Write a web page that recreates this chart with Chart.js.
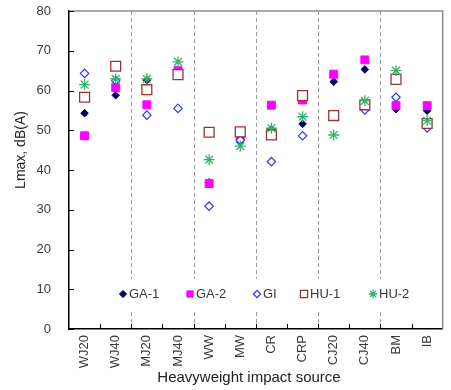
<!DOCTYPE html>
<html><head><meta charset="utf-8">
<script src="https://cdn.jsdelivr.net/npm/chart.js@4.4.1/dist/chart.umd.min.js"></script>
<style>html,body{margin:0;padding:0;background:#fff;}canvas{display:block}</style>
</head><body>
<canvas id="c" width="451" height="390"></canvas>
<script>
const categories = ['WJ20','WJ40','MJ20','MJ40','WW','MW','CR','CRP','CJ20','CJ40','BM','IB'];
const ga1 = [54.3, 58.8, 62.6, 64.5, 36.9, 47.0, 50.2, 51.6, 62.2, 65.3, 55.3, 54.9];
const ga2 = [48.6, 60.7, 56.4, 65.0, 36.6, 48.4, 56.3, 57.6, 64.1, 67.7, 56.2, 56.2];
const gi  = [64.3, 62.5, 53.8, 55.5, 30.9, 47.5, 42.1, 48.6, null, 55.1, 58.3, 50.6];
const hu1 = [58.3, 66.1, 60.2, 64.0, 49.5, 49.6, 48.8, 58.7, 53.7, 56.4, 62.8, 51.7];
const hu2 = [61.5, 62.9, 62.9, 67.2, 42.6, 46.0, 50.5, 53.4, 48.8, 57.4, 65.0, 52.4];
const yTicks = [0,10,20,30,40,50,60,70,80];
const separatorsAfter = [1,3,5,7,9];
const xTitle = 'Heavyweight impact source';
const yTitle = 'Lmax, dB(A)';

const FONT = '"Liberation Sans", Arial, sans-serif';
const TXT = '#3a3a3a';

function ds(label, data, style, radius, color, fill, order, bw){
  return {label, data, showLine:false, pointStyle:style, pointRadius:radius, pointHoverRadius:radius,
    pointBackgroundColor:fill, pointBorderColor:color, pointBorderWidth:bw, backgroundColor:fill, borderColor:color, order};
}
const datasets = [
  ds('GA-1', ga1, 'rectRot', 3.8, '#000066', '#000066', 5, 1),
  ds('GA-2', ga2, 'rect', 5.6, '#ff00ff', '#ff00ff', 4, 1),
  ds('GI',   gi,  'rectRot', 4.2, '#3333ff', '#ffffff', 3, 1.2),
  ds('HU-1', hu1, 'rect', 7, '#993333', '#ffffff', 2, 1.3),
  ds('HU-2', hu2, 'star', 5.5, '#33b36b', 'rgba(0,0,0,0)', 1, 1.3)
];

const framePlugin = {
  id:'frame',
  beforeDatasetsDraw(chart){
    const {ctx, chartArea:a, scales:{x,y}} = chart;
    ctx.save();
    ctx.strokeStyle='#9a9a9a'; ctx.lineWidth=1; ctx.setLineDash([4,3]);
    separatorsAfter.forEach(i=>{
      const px = Math.round((x.getPixelForValue(i)+x.getPixelForValue(i+1))/2)+0.5;
      ctx.beginPath(); ctx.moveTo(px,a.top); ctx.lineTo(px,a.bottom); ctx.stroke();
    });
    ctx.setLineDash([]);
    ctx.strokeStyle='#8c8c8c'; ctx.lineWidth=1.5;
    ctx.beginPath(); ctx.moveTo(a.left,a.top); ctx.lineTo(a.right,a.top); ctx.lineTo(a.right,a.bottom); ctx.stroke();
    ctx.strokeStyle='#000'; ctx.lineWidth=1;
    yTicks.forEach(v=>{
      const py=Math.round(y.getPixelForValue(v))+0.5;
      ctx.beginPath(); ctx.moveTo(a.left,py); ctx.lineTo(a.left+5,py); ctx.stroke();
    });
    for(let i=0;i<categories.length-1;i++){
      const px = Math.round((x.getPixelForValue(i)+x.getPixelForValue(i+1))/2)+0.5;
      ctx.beginPath(); ctx.moveTo(px,a.bottom); ctx.lineTo(px,a.bottom-5); ctx.stroke();
    }
    ctx.restore();
  },
  afterDatasetsDraw(chart){
    const {ctx} = chart;
    ctx.save();
    ctx.fillStyle='#fff';
    ctx.fillRect(113,279,306,32);
    const items = [[123,129],[190,196],[257,263],[304,310],[373,379]];
    const sizes = [3.6,4.4,3.6,5,4.2];
    chart.data.datasets.forEach((d,i)=>{
      const [mx,tx] = items[i];
      ctx.fillStyle = d.pointBackgroundColor;
      ctx.strokeStyle = d.pointBorderColor;
      ctx.lineWidth = d.pointBorderWidth;
      Chart.helpers.drawPoint(ctx,{pointStyle:d.pointStyle, radius:sizes[i], rotation:0, borderWidth:d.pointBorderWidth}, mx, 294);
      ctx.fillStyle = TXT;
      ctx.font = '13px '+FONT;
      ctx.textBaseline='middle'; ctx.textAlign='left';
      ctx.fillText(d.label, tx, 294.5);
    });
    ctx.restore();
  },
  afterDraw(chart){
    const {ctx} = chart;
    ctx.save();
    ctx.fillStyle='#222';
    ctx.textAlign='center'; ctx.textBaseline='middle';
    ctx.font='15px '+FONT;
    ctx.fillText(xTitle, 249, 378);
    ctx.font='14px '+FONT;
    ctx.translate(21,150); ctx.rotate(-Math.PI/2);
    ctx.fillText(yTitle, 0, 0);
    ctx.restore();
  }
};

new Chart(document.getElementById('c'), {
  type:'line',
  data:{labels:categories, datasets},
  options:{
    responsive:false, animation:false,
    layout:{padding:{top:11,right:4,left:0,bottom:0}},
    plugins:{legend:{display:false}, tooltip:{enabled:false}},
    scales:{
      x:{
        offset:true,
        grid:{display:true, drawOnChartArea:false, offset:true, drawTicks:true, tickLength:3, tickColor:'rgba(0,0,0,0)'},
        border:{display:true, color:'#000', width:1.5},
        ticks:{minRotation:90, maxRotation:90, autoSkip:false, padding:3, color:TXT, font:{family:FONT, size:13}},
        afterFit(s){ s.height = 61; }
      },
      y:{
        min:0, max:80,
        grid:{display:true, drawOnChartArea:false, drawTicks:true, tickLength:15, tickColor:'rgba(0,0,0,0)'},
        border:{display:true, color:'#000', width:1.5},
        ticks:{stepSize:10, padding:3, color:TXT, font:{family:FONT, size:13}},
        afterFit(s){ s.width = 69; }
      }
    }
  },
  plugins:[framePlugin]
});
</script>
</body></html>
